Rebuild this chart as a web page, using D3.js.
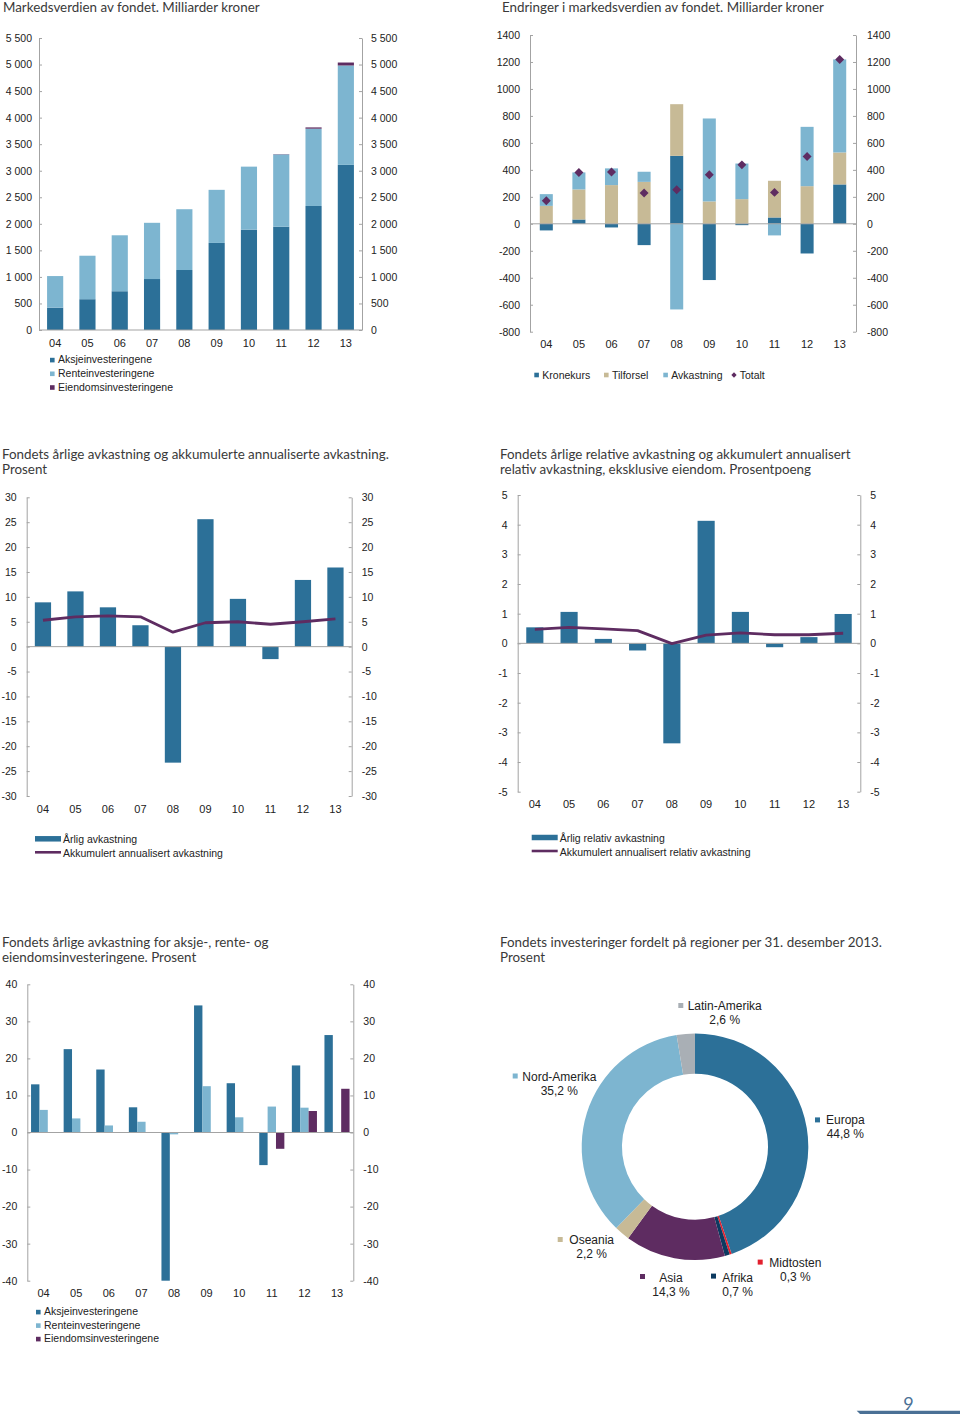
<!DOCTYPE html>
<html><head><meta charset="utf-8">
<script src="https://cdn.jsdelivr.net/npm/d3@7"></script>
<style>
body{margin:0;background:#fff;}
svg{display:block;}
.ttl{font-family:Lato,'Open Sans',sans-serif;font-weight:400;font-size:13.5px;fill:#3a3a3a;}
.lab{font-family:'Liberation Sans',Arial,sans-serif;font-size:10.5px;fill:#222;}
.xl{font-family:'Liberation Sans',Arial,sans-serif;font-size:11px;fill:#222;}
.dl{font-family:'Liberation Sans',Arial,sans-serif;font-size:12px;fill:#222;}
</style></head><body>
<svg id="c" width="960" height="1419"></svg>
<script>
// ---------- DATA ----------
const years = ['04','05','06','07','08','09','10','11','12','13'];

// Panel 1: Markedsverdien (mrd kr)
const mvAksje   = [420, 580, 730, 960, 1130, 1640, 1890, 1945, 2336, 3110];
const mvRente   = [596, 819, 1054, 1059, 1145, 1000, 1187, 1362, 1456, 1872];
const mvEiendom = [0, 0, 0, 0, 0, 0, 0, 5, 24, 56];
const mvTicks   = [0, 500, 1000, 1500, 2000, 2500, 3000, 3500, 4000, 4500, 5000, 5500];
const mvLegend  = ['Aksjeinvesteringene', 'Renteinvesteringene', 'Eiendomsinvesteringene'];

// Panel 2: Endringer i markedsverdien
const chKrone      = [-49, 32, -27, -158, 504, -417, -10, 47, -220, 292];
const chTilforsel  = [133, 223, 287, 311, 383, 166, 183, 272, 279, 237];
const chAvkastning = [87, 126, 124, 75, -635, 615, 264, -86, 440, 690];
const chTotalt     = [171, 381, 384, 228, 252, 364, 437, 233, 499, 1219];
const chTicks      = [-800, -600, -400, -200, 0, 200, 400, 600, 800, 1000, 1200, 1400];
const chLegend     = ['Kronekurs', 'Tilforsel', 'Avkastning', 'Totalt'];

// Panel 3: Årlig avkastning
const retAnnual = [8.9, 11.1, 7.9, 4.3, -23.3, 25.6, 9.6, -2.5, 13.4, 15.9];
const retCum    = [5.3, 6.0, 6.2, 6.0, 2.9, 4.8, 5.0, 4.5, 5.0, 5.6];
const retTicks  = [-30, -25, -20, -15, -10, -5, 0, 5, 10, 15, 20, 25, 30];
const retLegend = ['Årlig avkastning', 'Akkumulert annualisert avkastning'];

// Panel 4: Relativ avkastning
const relAnnual = [0.54, 1.06, 0.15, -0.24, -3.37, 4.13, 1.06, -0.13, 0.21, 0.99];
const relCum    = [0.47, 0.54, 0.49, 0.43, -0.01, 0.28, 0.35, 0.29, 0.29, 0.34];
const relTicks  = [-5, -4, -3, -2, -1, 0, 1, 2, 3, 4, 5];
const relLegend = ['Årlig relativ avkastning', 'Akkumulert annualisert relativ avkastning'];

// Panel 5: Avkastning per aktivaklasse
const clsAksje   = [13.0, 22.5, 17.0, 6.8, -40.0, 34.3, 13.3, -8.8, 18.1, 26.3];
const clsRente   = [6.1, 3.8, 1.9, 2.9, -0.5, 12.5, 4.1, 7.0, 6.7, 0.1];
const clsEiendom = [null, null, null, null, null, null, null, -4.4, 5.8, 11.8];
const clsTicks   = [-40, -30, -20, -10, 0, 10, 20, 30, 40];

// Panel 6: Regioner
const regionNames  = ['Europa', 'Midtosten', 'Afrika', 'Asia', 'Oseania', 'Nord-Amerika', 'Latin-Amerika'];
const regionShares = [44.8, 0.3, 0.7, 14.3, 2.2, 35.2, 2.6];
const regionLabels = ['44,8 %', '0,3 %', '0,7 %', '14,3 %', '2,2 %', '35,2 %', '2,6 %'];

const titles = [
  ['Markedsverdien av fondet. Milliarder kroner'],
  ['Endringer i markedsverdien av fondet. Milliarder kroner'],
  ['Fondets årlige avkastning og akkumulerte annualiserte avkastning.', 'Prosent'],
  ['Fondets årlige relative avkastning og akkumulert annualisert', 'relativ avkastning, eksklusive eiendom. Prosentpoeng'],
  ['Fondets årlige avkastning for aksje-, rente- og', 'eiendomsinvesteringene. Prosent'],
  ['Fondets investeringer fordelt på regioner per 31. desember 2013.', 'Prosent']
];

// ---------- STYLE ----------
const C = {
  aksje: '#2c7098', rente: '#7db5d0', eiendom: '#5e2c61', tan: '#c7ba96',
  gray: '#a9afb5', navy: '#0c3a60', red: '#e2202e', axis: '#a3a3a3'
};
const regionColors = [C.aksje, C.red, C.navy, C.eiendom, C.tan, C.rente, C.gray];
const FONT = "'Liberation Sans', Arial, sans-serif";
const locale = d3.formatLocale({decimal: ',', thousands: ' ', grouping: [3], currency: ['', '']});
const fmtSp = locale.format(',');
const fmtPlain = d => String(d);

const svg = d3.select('#c');

// ---------- HELPERS ----------
function yAxes(y, ticks, fmt, xl, xr, padL, padR) {
  const gl = svg.append('g').attr('transform', `translate(${xl},0)`)
    .call(d3.axisLeft(y).tickValues(ticks).tickFormat(fmt).tickSize(-3).tickSizeOuter(0).tickPadding(padL));
  const gr = svg.append('g').attr('transform', `translate(${xr},0)`)
    .call(d3.axisRight(y).tickValues(ticks).tickFormat(fmt).tickSize(-3).tickSizeOuter(0).tickPadding(padR));
  [gl, gr].forEach(g => {
    g.attr('font-family', FONT).attr('font-size', 10.5).style('color', '#222');
    g.selectAll('path, line').attr('stroke', C.axis);
  });
}
function zeroLine(y, xl, xr) {
  svg.append('line').attr('x1', xl).attr('x2', xr).attr('y1', y(0)).attr('y2', y(0))
    .attr('stroke', C.axis).attr('stroke-width', 1);
}
function xLabels(x, yb) {
  svg.append('g').selectAll('text').data(years).join('text')
    .attr('class', 'xl').attr('text-anchor', 'middle')
    .attr('x', d => x(d) + x.bandwidth() / 2).attr('y', yb).text(d => d);
}
function title(lines, x, y0) {
  lines.forEach((t, i) => svg.append('text').attr('class', 'ttl').attr('x', x).attr('y', y0 + i * 14.5).text(t));
}
function squareLegend(items, colors, x, y0, dy) {
  items.forEach((t, i) => {
    svg.append('rect').attr('x', x).attr('y', y0 + i * dy - 5.5).attr('width', 4.6).attr('height', 4.6).attr('fill', colors[i]);
    svg.append('text').attr('class', 'lab').attr('x', x + 8).attr('y', y0 + i * dy).text(t);
  });
}

// ---------- PANEL 1 ----------
(function () {
  const xl = 39, xr = 362;
  const y = d3.scaleLinear().domain([0, 5500]).range([330, 38]);
  const x = d3.scaleBand().domain(years).range([xl, xr]).paddingInner(0.5).paddingOuter(0.25);
  const rows = years.map((yr, i) => ({yr, a: mvAksje[i], r: mvRente[i], e: mvEiendom[i]}));
  const series = d3.stack().keys(['a', 'r', 'e'])(rows);
  const cols = [C.aksje, C.rente, C.eiendom];
  svg.append('g').selectAll('g').data(series).join('g').attr('fill', (d, i) => cols[i])
    .selectAll('rect').data(d => d).join('rect')
    .attr('x', d => x(d.data.yr)).attr('width', x.bandwidth())
    .attr('y', d => y(d[1])).attr('height', d => Math.max(0, y(d[0]) - y(d[1])));
  yAxes(y, mvTicks, fmtSp, xl, xr, 7, 9);
  zeroLine(y, xl, xr);
  xLabels(x, 346.5);
  title(titles[0], 3, 11.7);
  squareLegend(mvLegend, cols, 50, 363.3, 13.7);
})();

// ---------- PANEL 2 ----------
(function () {
  const xl = 530, xr = 856;
  const y = d3.scaleLinear().domain([-800, 1400]).range([331.7, 35]);
  const x = d3.scaleBand().domain(years).range([xl, xr]).paddingInner(0.6).paddingOuter(0.3);
  const rows = years.map((yr, i) => ({yr, k: chKrone[i], t: chTilforsel[i], a: chAvkastning[i]}));
  const series = d3.stack().keys(['k', 't', 'a']).offset(d3.stackOffsetDiverging)(rows);
  const cols = [C.aksje, C.tan, C.rente];
  svg.append('g').selectAll('g').data(series).join('g').attr('fill', (d, i) => cols[i])
    .selectAll('rect').data(d => d).join('rect')
    .attr('x', d => x(d.data.yr)).attr('width', x.bandwidth())
    .attr('y', d => y(Math.max(d[0], d[1]))).attr('height', d => Math.abs(y(d[0]) - y(d[1])));
  yAxes(y, chTicks, fmtPlain, xl, xr, 10, 11);
  zeroLine(y, xl, xr);
  const diamond = d3.symbol(d3.symbolSquare, 40)();
  svg.append('g').selectAll('path').data(chTotalt).join('path')
    .attr('d', diamond).attr('fill', C.eiendom)
    .attr('transform', (d, i) => `translate(${x(years[i]) + x.bandwidth() / 2},${y(d)}) rotate(45)`);
  xLabels(x, 348);
  title(titles[1], 502, 11.7);
  // legend
  const lx = [534.3, 604, 663.3, 731.7];
  chLegend.forEach((t, i) => {
    if (i < 3) {
      svg.append('rect').attr('x', lx[i]).attr('y', 372.7).attr('width', 4.6).attr('height', 4.6).attr('fill', cols[i]);
    } else {
      svg.append('path').attr('d', d3.symbol(d3.symbolSquare, 14)()).attr('fill', C.eiendom)
        .attr('transform', `translate(${lx[i] + 2.3},375) rotate(45)`);
    }
    svg.append('text').attr('class', 'lab').attr('x', lx[i] + 8).attr('y', 379).text(t);
  });
})();

// ---------- PANEL 3 & 4 (bars + line) ----------
function barLine(cfg) {
  const {xl, xr, yTop, yBot, dom, vals, cum, ticks, padL, padR, xlab, ttl, tx, legend, lgx, lgy} = cfg;
  const y = d3.scaleLinear().domain(dom).range([yBot, yTop]);
  const x = d3.scaleBand().domain(years).range([xl, xr]).paddingInner(0.5).paddingOuter(0.25);
  svg.append('g').attr('fill', C.aksje).selectAll('rect').data(vals).join('rect')
    .attr('x', (d, i) => x(years[i])).attr('width', x.bandwidth())
    .attr('y', d => y(Math.max(0, d))).attr('height', d => Math.abs(y(d) - y(0)));
  yAxes(y, ticks, fmtPlain, xl, xr, padL, padR);
  zeroLine(y, xl, xr);
  const line = d3.line().x((d, i) => x(years[i]) + x.bandwidth() / 2).y(d => y(d));
  svg.append('path').attr('d', line(cum)).attr('fill', 'none').attr('stroke', C.eiendom)
    .attr('stroke-width', 2.8).attr('stroke-linejoin', 'round');
  xLabels(x, xlab);
  title(ttl, tx, 459);
  svg.append('line').attr('x1', lgx).attr('x2', lgx + 26).attr('y1', lgy - 4.5).attr('y2', lgy - 4.5)
    .attr('stroke', C.aksje).attr('stroke-width', 5.5);
  svg.append('text').attr('class', 'lab').attr('x', lgx + 28).attr('y', lgy).text(legend[0]);
  svg.append('line').attr('x1', lgx).attr('x2', lgx + 26).attr('y1', lgy + 9).attr('y2', lgy + 9)
    .attr('stroke', C.eiendom).attr('stroke-width', 2.6);
  svg.append('text').attr('class', 'lab').attr('x', lgx + 28).attr('y', lgy + 13.6).text(legend[1]);
}
barLine({xl: 26.7, xr: 351.7, yTop: 497.3, yBot: 796, dom: [-30, 30], vals: retAnnual, cum: retCum,
  ticks: retTicks, padL: 10, padR: 10, xlab: 812.5, ttl: titles[2], tx: 2, legend: retLegend, lgx: 35, lgy: 843.3});
barLine({xl: 517.7, xr: 860.3, yTop: 495, yBot: 791.7, dom: [-5, 5], vals: relAnnual, cum: relCum,
  ticks: relTicks, padL: 10, padR: 10, xlab: 808, ttl: titles[3], tx: 500, legend: relLegend, lgx: 531.7, lgy: 842});

// ---------- PANEL 5 ----------
(function () {
  const xl = 27.3, xr = 353.3;
  const y = d3.scaleLinear().domain([-40, 40]).range([1280.7, 984.3]);
  const x0 = d3.scaleBand().domain(years).range([xl, xr]).paddingInner(0.23).paddingOuter(0.115);
  const keys = ['a', 'r', 'e'];
  const x1 = d3.scaleBand().domain(keys).range([0, x0.bandwidth()]);
  const cols = {a: C.aksje, r: C.rente, e: C.eiendom};
  const src = {a: clsAksje, r: clsRente, e: clsEiendom};
  const cells = [];
  years.forEach((yr, i) => keys.forEach(k => { if (src[k][i] != null) cells.push({yr, k, v: src[k][i]}); }));
  svg.append('g').selectAll('rect').data(cells).join('rect')
    .attr('x', d => x0(d.yr) + x1(d.k)).attr('width', x1.bandwidth())
    .attr('y', d => y(Math.max(0, d.v))).attr('height', d => Math.abs(y(d.v) - y(0)))
    .attr('fill', d => cols[d.k]);
  yAxes(y, clsTicks, fmtPlain, xl, xr, 10, 10);
  zeroLine(y, xl, xr);
  xLabels(x0, 1297);
  title(titles[4], 2, 947.3);
  squareLegend(mvLegend, [C.aksje, C.rente, C.eiendom], 36, 1315.3, 13.5);
})();

// ---------- PANEL 6 ----------
(function () {
  const cx = 695, cy = 1146.7;
  const pie = d3.pie().sort(null).value(d => d);
  const arc = d3.arc().innerRadius(73).outerRadius(113.3);
  svg.append('g').attr('transform', `translate(${cx},${cy})`)
    .selectAll('path').data(pie(regionShares)).join('path')
    .attr('d', arc).attr('fill', (d, i) => regionColors[i]);
  title(titles[5], 500, 947.3);
  // label layout: [square x, square y(top), name x, name baseline]
  const lay = [
    [815, 1117.4, 826, 1124],      // Europa
    [757.7, 1259.6, 769.3, 1266.7],// Midtosten
    [711, 1273.6, 722.3, 1281.7],  // Afrika
    [640, 1274, 659.3, 1281.7],    // Asia
    [557.7, 1237, 569.3, 1244.3],  // Oseania
    [512.7, 1073.5, 522.3, 1081],  // Nord-Amerika
    [678.3, 1003, 687.7, 1010.3]   // Latin-Amerika
  ];
  regionNames.forEach((n, i) => {
    const [sx, sy, tx, ty] = lay[i];
    svg.append('rect').attr('x', sx).attr('y', sy).attr('width', 5).attr('height', 5).attr('fill', regionColors[i]);
    const t = svg.append('text').attr('class', 'dl').attr('x', tx).attr('y', ty).text(n);
    const w = t.node().getComputedTextLength();
    svg.append('text').attr('class', 'dl').attr('text-anchor', 'middle')
      .attr('x', tx + w / 2).attr('y', ty + 14).text(regionLabels[i]);
  });
})();

// ---------- PAGE NUMBER ----------
svg.append('text').attr('x', 908.5).attr('y', 1409.5).attr('text-anchor', 'middle')
  .attr('font-family', "Lato,'Open Sans',sans-serif").attr('font-weight', 400).attr('font-size', 18)
  .attr('fill', '#4b7196').text('9');
svg.append('path').attr('d', 'M856.7,1410.7 L960,1410.7 L960,1414 L860,1414 Z').attr('fill', '#4a7095');

// fit title font to reference width
(function () {
  const ref = svg.selectAll('.ttl').filter(function () { return this.textContent === titles[2][0]; }).node();
  const w = ref.getComputedTextLength();
  const fs = 13.5 * 387 / w;
  svg.selectAll('.ttl').style('font-size', fs + 'px');
})();
</script>
</body></html>
